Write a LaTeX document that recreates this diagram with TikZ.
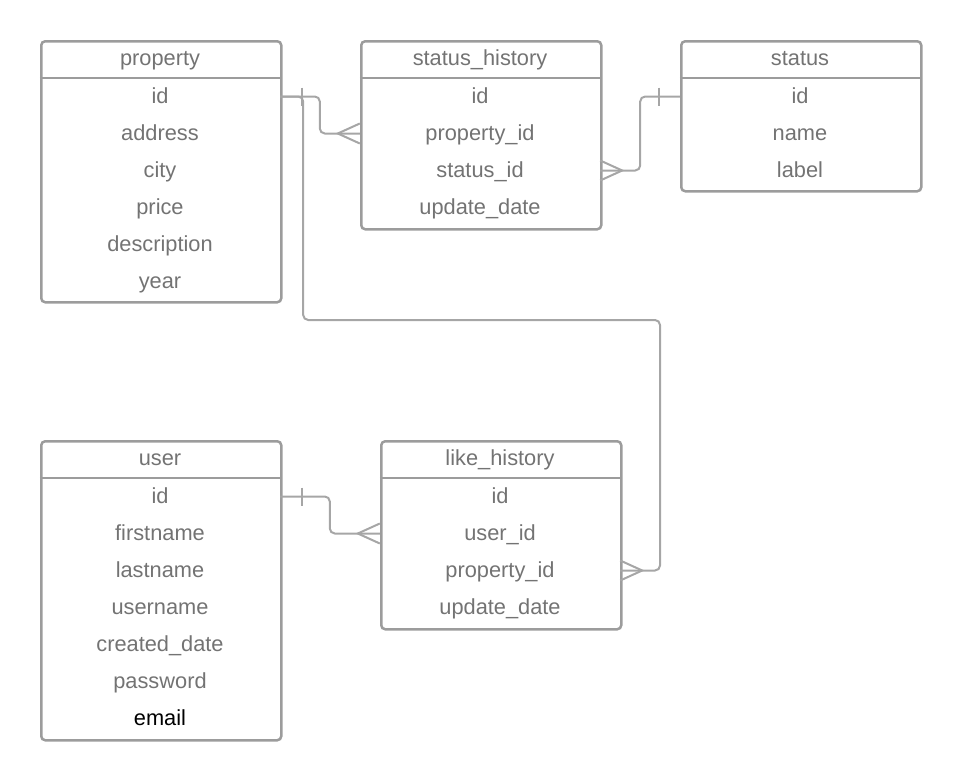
\documentclass[tikz,border=0pt]{standalone}
\usepackage{fontspec}
\setmainfont{Liberation Sans}
\usetikzlibrary{calc}
\definecolor{framegray}{HTML}{9C9C9C}
\definecolor{linkgray}{HTML}{A6A6A6}
\definecolor{labelgray}{HTML}{737373}
\begin{document}
\begin{tikzpicture}[x=1pt,y=-1pt,
  frame/.style={draw=framegray, line width=2.5pt, rounded corners=4pt,
    minimum width=240pt, inner sep=0pt, anchor=north west},
  band/.style={minimum width=240pt, minimum height=37pt, inner sep=0pt,
    text height=13pt, text depth=0pt, text=labelgray,
    font=\fontsize{21.8}{26}\selectfont},
  divider/.style={draw=framegray, line width=2.5pt},
  link/.style={draw=linkgray, line width=2pt, rounded corners=5pt},
  tick/.style={draw=linkgray, line width=2pt}]
\useasboundingbox (0,0) rectangle (960,779);

% ---------- property ----------
\node[frame, minimum height=261pt] (property) at (40,40) {};
\node[band, minimum height=38pt] (p-h) at (160,59) {property};
\draw[divider] (p-h.south west) -- (p-h.south east);
\node[band] (p-id)    at (160,96.5)  {id};
\node[band] (p-addr)  at (160,133.5) {address};
\node[band] (p-city)  at (160,170.5) {city};
\node[band] (p-price) at (160,207.5) {price};
\node[band] (p-desc)  at (160,244.5) {description};
\node[band] (p-year)  at (160,281.5) {year};

% ---------- status_history ----------
\node[frame, minimum height=188pt] (statushistory) at (360,40) {};
\node[band, minimum height=38pt] (sh-h) at (480,59) {status\_history};
\draw[divider] (sh-h.south west) -- (sh-h.south east);
\node[band] (sh-id)   at (480,96.5)  {id};
\node[band] (sh-pid)  at (480,133.5) {property\_id};
\node[band] (sh-sid)  at (480,170.5) {status\_id};
\node[band] (sh-date) at (480,207.5) {update\_date};

% ---------- status ----------
\node[frame, minimum height=150pt] (status) at (680,40) {};
\node[band, minimum height=38pt] (s-h) at (800,59) {status};
\draw[divider] (s-h.south west) -- (s-h.south east);
\node[band] (s-id)    at (800,96.5)  {id};
\node[band] (s-name)  at (800,133.5) {name};
\node[band] (s-label) at (800,170.5) {label};

% ---------- user ----------
\node[frame, minimum height=299pt] (user) at (40,440) {};
\node[band, minimum height=38pt] (u-h) at (160,459) {user};
\draw[divider] (u-h.south west) -- (u-h.south east);
\node[band] (u-id)      at (160,496.5) {id};
\node[band] (u-first)   at (160,533.5) {firstname};
\node[band] (u-last)    at (160,570.5) {lastname};
\node[band] (u-uname)   at (160,607.5) {username};
\node[band] (u-created) at (160,644.5) {created\_date};
\node[band] (u-pass)    at (160,681.5) {password};
\node[band, text=black] (u-mail) at (160,718.5) {email};

% ---------- like_history ----------
\node[frame, minimum height=188pt] (likehistory) at (380,440) {};
\node[band, minimum height=38pt] (lh-h) at (500,459) {like\_history};
\draw[divider] (lh-h.south west) -- (lh-h.south east);
\node[band] (lh-id)   at (500,496.5) {id};
\node[band] (lh-uid)  at (500,533.5) {user\_id};
\node[band] (lh-pid)  at (500,570.5) {property\_id};
\node[band] (lh-date) at (500,607.5) {update\_date};

% ---------- relationships ----------
\coordinate (pbend) at (660,320);

% property.id  ->  status_history.property_id
\draw[link] (p-id.east) -| ($(sh-pid.west)+(-40,0)$) -- (sh-pid.west);
\draw[tick] ($(p-id.east)+(22,-9)$) -- ++(0,18);
\draw[tick] ($(sh-pid.west)+(0,-10)$) -- ++(-22,10) -- ++(22,10);

% status.id  ->  status_history.status_id
\draw[link] (s-id.west) -| ($(sh-sid.east)+(40,0)$) -- (sh-sid.east);
\draw[tick] ($(s-id.west)+(-21,-9)$) -- ++(0,18);
\draw[tick] ($(sh-sid.east)+(0,-10)$) -- ++(22,10) -- ++(-22,10);

% user.id  ->  like_history.user_id
\draw[link] (u-id.east) -| ($(lh-uid.west)+(-50,0)$) -- (lh-uid.west);
\draw[tick] ($(u-id.east)+(22,-9)$) -- ++(0,18);
\draw[tick] ($(lh-uid.west)+(0,-10)$) -- ++(-22,10) -- ++(22,10);

% property.id  ->  like_history.property_id
\draw[link] (p-id.east) -- ++(23,0) |- (pbend) |- (lh-pid.east);
\draw[tick] ($(lh-pid.east)+(0,-10)$) -- ++(22,10) -- ++(-22,10);
\end{tikzpicture}
\end{document}
